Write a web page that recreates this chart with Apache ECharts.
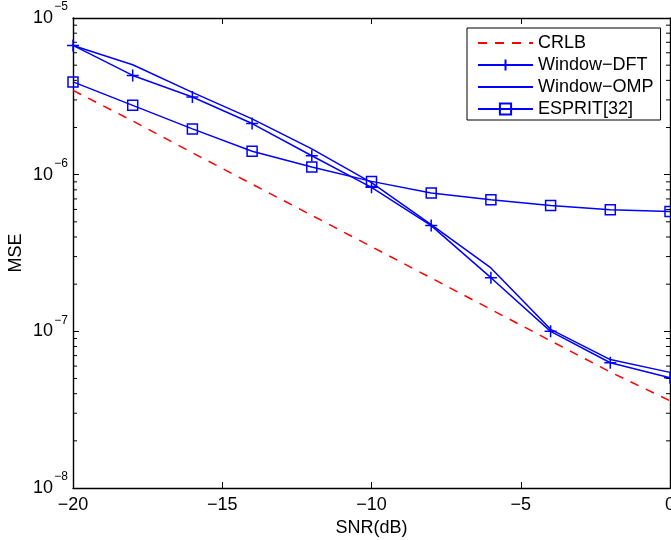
<!DOCTYPE html>
<html>
<head>
<meta charset="utf-8">
<script src="https://cdn.jsdelivr.net/npm/echarts@6/dist/echarts.min.js"></script>
<style>html,body{margin:0;padding:0;background:#fff}#c{width:671px;height:540px}</style>
</head>
<body>
<div id="c"></div>
<script>
const snr = [-20, -18, -16, -14, -12, -10, -8, -6, -4, -2, 0];
const crlb = [3.45e-6, 2.2e-6, 1.38e-6, 8.7e-7, 5.5e-7, 3.47e-7, 2.19e-7, 1.38e-7, 8.7e-8, 5.5e-8, 3.6e-8];
const windowDFT = [6.68e-6, 4.3e-6, 3.13e-6, 2.12e-6, 1.32e-6, 8.3e-7, 4.73e-7, 2.2e-7, 1.0e-7, 6.3e-8, 5.05e-8];
const windowOMP = [6.68e-6, 5.03e-6, 3.35e-6, 2.27e-6, 1.46e-6, 8.9e-7, 4.8e-7, 2.54e-7, 1.03e-7, 6.6e-8, 5.47e-8];
const esprit = [3.91e-6, 2.77e-6, 1.96e-6, 1.41e-6, 1.12e-6, 9.06e-7, 7.64e-7, 6.92e-7, 6.36e-7, 5.98e-7, 5.83e-7];
const xTickValues = [-20, -15, -10, -5, 0];
const minorTickValues = [];
for (let e = -8; e < -5; e++) for (let m = 2; m <= 9; m++) minorTickValues.push(m * Math.pow(10, e));

const font = 'Liberation Sans, Arial, Helvetica, sans-serif';
const blue = '#0000ff';
const pair = arr => snr.map((x, i) => [x, arr[i]]);
const plusPath = 'path://M0,6L12,6M6,0L6,12';
const expOf = v => Math.round(Math.log10(v));

const chart = echarts.init(document.getElementById('c'), null, {renderer: 'canvas'});
const axisLine = {show: true, onZero: false, lineStyle: {color: '#000', width: 1.4}};
const tickIn = {show: true, inside: true, length: 6, lineStyle: {color: '#000', width: 1}};
const logAxis = {type: 'log', logBase: 10, min: 1e-8, max: 1e-5, splitLine: {show: false}, minorTick: {show: false}};

chart.setOption({
  animation: false,
  backgroundColor: '#fff',
  grid: {left: 73, right: 1, top: 18, bottom: 52, containLabel: false, outerBoundsMode: 'none'},
  xAxis: [{
    type: 'value', min: -20, max: 0, interval: 5, position: 'bottom',
    name: 'SNR(dB)', nameLocation: 'middle', nameGap: 31,
    nameTextStyle: {fontSize: 18, fontFamily: font, color: '#000', verticalAlign: 'top'},
    axisLine, axisTick: tickIn, splitLine: {show: false},
    axisLabel: {color: '#000', fontSize: 18, fontFamily: font, margin: 8, hideOverlap: false,
      formatter: v => xTickValues.includes(v) ? String(v).replace('-', '\u2212') : ''}
  }, {
    type: 'value', min: -20, max: 0, interval: 5, position: 'top',
    axisLine, axisTick: tickIn, splitLine: {show: false}, axisLabel: {show: false}
  }],
  yAxis: [Object.assign({}, logAxis, {
    position: 'left',
    name: 'MSE', nameLocation: 'middle', nameGap: 48, nameMoveOverlap: false,
    nameTextStyle: {fontSize: 18, fontFamily: font, color: '#000'},
    axisLine, axisTick: tickIn,
    axisLabel: {color: '#000', fontSize: 18, fontFamily: font, margin: 20, formatter: () => '10'}
  }), Object.assign({}, logAxis, {
    position: 'right',
    axisLine, axisTick: tickIn, axisLabel: {show: false}
  }), Object.assign({}, logAxis, {
    position: 'left',
    axisLine: {show: false}, axisTick: {show: false},
    axisLabel: {color: '#000', fontSize: 12, fontFamily: font, margin: 5,
      verticalAlign: 'bottom', padding: [0, 0, 5, 0],
      formatter: v => { const e = expOf(v); return e < 0 ? '\u2212' + (-e) : String(e); }}
  })],
  legend: {
    data: [
      {name: 'CRLB', itemStyle: {opacity: 0}},
      {name: 'Window\u2212DFT'},
      {name: 'Window\u2212OMP', itemStyle: {opacity: 0}},
      {name: 'ESPRIT[32]'}
    ],
    orient: 'vertical', left: 467, top: 28,
    padding: [6, 7, 2, 10], itemGap: 4, itemWidth: 55, itemHeight: 14,
    backgroundColor: '#fff', borderColor: '#000', borderWidth: 1,
    textStyle: {fontSize: 18, fontFamily: font, color: '#000'}
  },
  series: [{
    name: 'CRLB', type: 'line', data: pair(crlb), showSymbol: false, symbol: 'none',
    lineStyle: {color: '#ff0000', width: 1.5, type: [9, 8]}, itemStyle: {color: '#ff0000'}, z: 2
  }, {
    name: 'Window\u2212DFT', type: 'line', data: pair(windowDFT), symbol: plusPath, symbolSize: 12,
    lineStyle: {color: blue, width: 1.5},
    itemStyle: {color: 'none', borderColor: blue, borderWidth: 1.5}, z: 3
  }, {
    name: 'Window\u2212OMP', type: 'line', data: pair(windowOMP), symbol: 'none',
    lineStyle: {color: blue, width: 1.5}, itemStyle: {color: blue}, z: 3
  }, {
    name: 'ESPRIT[32]', type: 'line', data: pair(esprit), symbol: 'rect', symbolSize: 10,
    lineStyle: {color: blue, width: 1.5},
    itemStyle: {color: 'none', borderColor: blue, borderWidth: 1.5}, z: 3
  }, {
    name: 'minorTicks', type: 'custom', silent: true, clip: false, z: 5,
    data: minorTickValues.map(v => [-20, v]),
    renderItem: (params, api) => {
      const v = api.value(1);
      const p = api.coord([-20, v]);
      const q = api.coord([0, v]);
      const st = {stroke: '#000', lineWidth: 1};
      return {type: 'group', children: [
        {type: 'line', shape: {x1: p[0], y1: p[1], x2: p[0] + 4, y2: p[1]}, style: st},
        {type: 'line', shape: {x1: q[0] - 4, y1: q[1], x2: q[0], y2: q[1]}, style: st}
      ]};
    }
  }]
});
</script>
</body>
</html>
